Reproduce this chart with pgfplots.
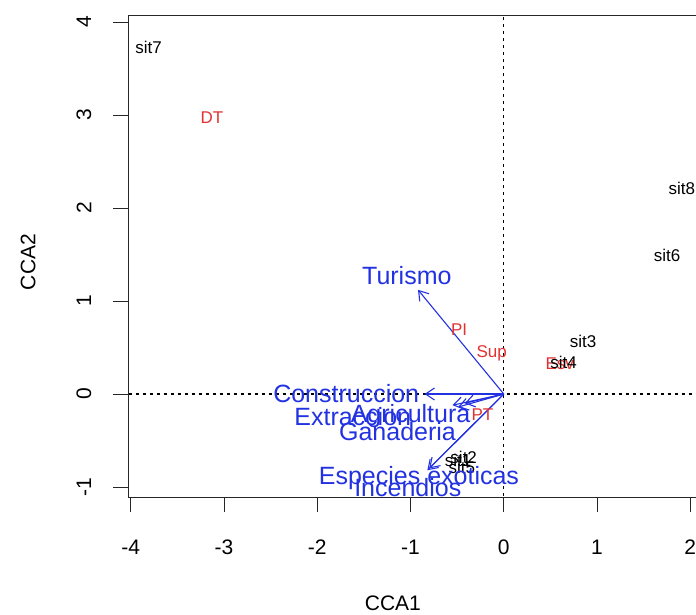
\documentclass[border=0pt]{standalone}
\usepackage{pgfplots}
\usepackage{pgfplotstable}
\pgfplotsset{compat=1.18}
\usetikzlibrary{arrows.meta}
\usepackage{fontspec}
\setmainfont{Liberation Sans}
\definecolor{rblue}{RGB}{35,50,225}
\definecolor{rred}{RGB}{225,50,50}

\pgfplotstableread[col sep=comma]{
x,y,u,v
0,0,-0.92,1.12
0,0,-0.85,0.00
0,0,-0.55,-0.12
0,0,-0.42,-0.10
0,0,-0.49,-0.14
0,0,-0.82,-0.82
0,0,-0.80,-0.80
}\arrowtab

\pgfplotstableread[col sep=comma]{
x,y,label
-1.04,1.27,Turismo
-1.69,0.00,Construccion
-1.62,-0.24,Extraccion
-1.00,-0.24,Agricultura
-1.14,-0.40,Ganaderia
-0.91,-0.90,Especies exoticas
-1.03,-1.01,Incendios
}\envtab

\pgfplotstableread[col sep=comma]{
x,y,label
-0.49,-0.71,sit1
-0.43,-0.68,sit2
0.85,0.57,sit3
0.64,0.34,sit4
-0.45,-0.79,sit5
1.75,1.49,sit6
-3.81,3.73,sit7
1.91,2.21,sit8
}\sitetab

\pgfplotstableread[col sep=comma]{
x,y,label
-3.13,2.97,DT
-0.48,0.69,PI
-0.13,0.44,Sup
0.60,0.33,Esv
-0.23,-0.22,PT
}\sptab

\begin{document}
\begin{tikzpicture}
\begin{axis}[
  at={(128pt,118pt)}, anchor=south west,
  scale only axis, width=627.6pt, height=482pt,
  xmin=-4.03, xmax=2.7, ymin=-1.107, ymax=4.075,
  xtick={-4,-3,-2,-1,0,1,2}, ytick={-1,0,1,2,3,4},
  xtick pos=bottom, ytick pos=left,
  tick align=outside, major tick length=15pt,
  axis line style={line width=0.9pt, black!85},
  tick style={line width=0.9pt, black!85},
  /pgf/number format/assume math mode=true,
  tick label style={font=\fontsize{21}{24}\selectfont},
  xticklabel style={anchor=center, yshift=-35pt},
  yticklabel style={rotate=90, anchor=center, yshift=29pt},
  xlabel={CCA1}, ylabel={CCA2},
  label style={font=\fontsize{21}{24}\selectfont},
  xlabel style={at={(axis description cs:0.422,0)}, anchor=center, yshift=-106pt},
  ylabel style={at={(axis description cs:-0.1593,0.4875)}, anchor=center},
]
\addplot[black, line width=1.1pt, dash pattern=on 3pt off 4pt] coordinates {(0,-2) (0,5)};
\addplot[black, line width=1.1pt, dash pattern=on 3pt off 4pt] coordinates {(-5,0) (3,0)};
\addplot[draw=none, mark=none, nodes near coords, point meta=explicit symbolic,
  nodes near coords align=center,
  every node near coord/.append style={anchor=center, text=rred, font=\fontsize{17}{20}\selectfont}]
  table[x=x, y=y, meta=label] {\sptab};
\addplot[draw=none, mark=none, nodes near coords, point meta=explicit symbolic,
  nodes near coords align=center,
  every node near coord/.append style={anchor=center, text=black, font=\fontsize{17}{20}\selectfont}]
  table[x=x, y=y, meta=label] {\sitetab};
\addplot[rblue, line width=1.1pt, quiver={u=\thisrow{u}, v=\thisrow{v}},
  -{Straight Barb[length=9pt, width=12pt]}] table[x=x, y=y] {\arrowtab};
\addplot[draw=none, mark=none, nodes near coords, point meta=explicit symbolic,
  nodes near coords align=center,
  every node near coord/.append style={anchor=center, text=rblue, font=\fontsize{25}{28}\selectfont}]
  table[x=x, y=y, meta=label] {\envtab};
\end{axis}
\pgfresetboundingbox
\useasboundingbox (0,0) rectangle (696pt,615pt);
\end{tikzpicture}
\end{document}
